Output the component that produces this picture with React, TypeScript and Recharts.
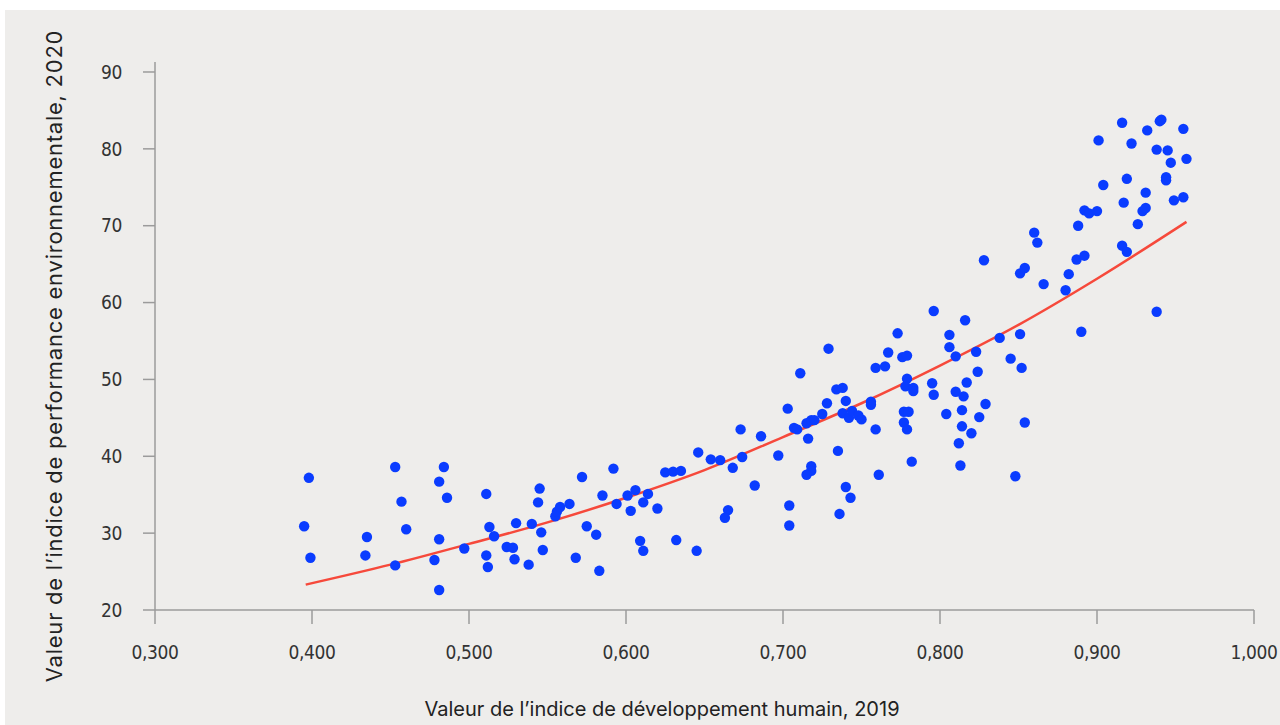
import { ComposedChart, Line, Scatter, XAxis, YAxis } from "recharts";

// Valeur IDH 2019 (x) et indice de performance environnementale 2020 (y), un pays par position
const hdiValues = [
  0.398, 0.395, 0.399, 0.453, 0.484, 0.481, 0.486, 0.457, 0.435, 0.46, 0.481, 0.434, 0.497, 0.453, 0.478, 0.481,
  0.511, 0.513, 0.516, 0.511, 0.512, 0.524, 0.528, 0.53, 0.529, 0.538, 0.54, 0.545, 0.544, 0.546, 0.547, 0.555,
  0.556, 0.558, 0.564, 0.572, 0.575, 0.568, 0.581, 0.583, 0.585, 0.592, 0.594, 0.601, 0.603, 0.606, 0.614, 0.611,
  0.62, 0.609, 0.611, 0.625,
  0.63, 0.635, 0.646, 0.654, 0.66, 0.668, 0.673, 0.674, 0.686, 0.682, 0.665, 0.663, 0.697, 0.703, 0.704, 0.704,
  0.711, 0.707, 0.709, 0.716, 0.715, 0.718, 0.72, 0.725, 0.728, 0.734, 0.729, 0.718, 0.718, 0.715, 0.735, 0.736,
  0.632, 0.645, 0.743,
  0.738, 0.74, 0.738, 0.742, 0.744, 0.748, 0.75, 0.756, 0.756, 0.759, 0.765, 0.767, 0.773, 0.759, 0.74, 0.761,
  0.86, 0.862, 0.828, 0.851, 0.854, 0.796, 0.816, 0.806, 0.806, 0.838, 0.851, 0.776, 0.779, 0.81, 0.823, 0.845,
  0.852, 0.824, 0.779, 0.778, 0.783, 0.783, 0.795, 0.796, 0.817, 0.81, 0.815, 0.829, 0.777, 0.78, 0.804, 0.814,
  0.825, 0.777, 0.779, 0.814, 0.82, 0.812, 0.854, 0.782, 0.813, 0.848,
  0.916, 0.94, 0.941, 0.932, 0.955, 0.901, 0.922, 0.938, 0.945, 0.947, 0.957, 0.904, 0.919, 0.944, 0.944, 0.931,
  0.917, 0.949, 0.955, 0.892, 0.895, 0.9, 0.929, 0.931, 0.926, 0.888, 0.916, 0.919, 0.887, 0.892, 0.882, 0.866,
  0.88, 0.938, 0.89,
];

const epiValues = [
  37.2, 30.9, 26.8, 38.6, 38.6, 36.7, 34.6, 34.1, 29.5, 30.5, 29.2, 27.1, 28.0, 25.8, 26.5, 22.6,
  35.1, 30.8, 29.6, 27.1, 25.6, 28.2, 28.1, 31.3, 26.6, 25.9, 31.2, 35.8, 34.0, 30.1, 27.8, 32.2,
  32.8, 33.4, 33.8, 37.3, 30.9, 26.8, 29.8, 25.1, 34.9, 38.4, 33.8, 34.9, 32.9, 35.6, 35.1, 34.0,
  33.2, 29.0, 27.7, 37.9,
  38.0, 38.1, 40.5, 39.6, 39.5, 38.5, 43.5, 39.9, 42.6, 36.2, 33.0, 32.0, 40.1, 46.2, 33.6, 31.0,
  50.8, 43.7, 43.5, 42.3, 44.3, 44.7, 44.7, 45.5, 46.9, 48.7, 54.0, 38.7, 38.1, 37.6, 40.7, 32.5,
  29.1, 27.7, 34.6,
  48.9, 47.2, 45.6, 45.0, 45.9, 45.3, 44.8, 47.1, 46.7, 51.5, 51.7, 53.5, 56.0, 43.5, 36.0, 37.6,
  69.1, 67.8, 65.5, 63.8, 64.5, 58.9, 57.7, 55.8, 54.2, 55.4, 55.9, 52.9, 53.1, 53.0, 53.6, 52.7,
  51.5, 51.0, 50.1, 49.1, 48.9, 48.5, 49.5, 48.0, 49.6, 48.4, 47.8, 46.8, 45.8, 45.8, 45.5, 46.0,
  45.1, 44.4, 43.5, 43.9, 43.0, 41.7, 44.4, 39.3, 38.8, 37.4,
  83.4, 83.6, 83.8, 82.4, 82.6, 81.1, 80.7, 79.9, 79.8, 78.2, 78.7, 75.3, 76.1, 76.3, 75.9, 74.3,
  73.0, 73.3, 73.7, 72.0, 71.6, 71.9, 71.9, 72.3, 70.2, 70.0, 67.4, 66.6, 65.6, 66.1, 63.7, 62.4,
  61.6, 58.8, 56.2,
];

// courbe de tendance
const trendHdi = [0.396, 0.45, 0.5, 0.55, 0.6, 0.65, 0.7, 0.75, 0.8, 0.85, 0.9, 0.957];
const trendEpi = [23.3, 25.9, 28.6, 31.4, 34.6, 38.2, 42.5, 46.9, 51.8, 57.1, 63.1, 70.5];

const xTicks = [0.3, 0.4, 0.5, 0.6, 0.7, 0.8, 0.9, 1.0];
const yTicks = [20, 30, 40, 50, 60, 70, 80, 90];

const points = hdiValues.map((x, i) => ({ x, y: epiValues[i] }));
const trend = trendHdi.map((x, i) => ({ x, y: trendEpi[i] }));

const tickFont = "'Liberation Sans Narrow', 'Arial Narrow', 'DejaVu Sans Condensed', sans-serif";
const titleFont = "Inter, 'Noto Sans', sans-serif";
const axisGrey = "#9b9b9b";

const Dot = (props: any) => <circle cx={props.cx} cy={props.cy} r={5.2} fill="#0a3cff" />;

export default function App() {
  return (
    <div style={{ position: "absolute", left: 0, top: 0, width: 1280, height: 725, background: "#fff", overflow: "hidden" }}>
      <div style={{ position: "absolute", left: 5, top: 10, width: 1275, height: 715, background: "#eeedeb" }} />
      <div style={{ position: "absolute", left: 0, top: 0 }}>
        <ComposedChart width={1280} height={725} margin={{ top: 62, right: 26, left: 95, bottom: 55 }}>
          <XAxis
            type="number"
            dataKey="x"
            domain={[0.3, 1.0]}
            ticks={xTicks}
            height={60}
            tickSize={14}
            tickMargin={22}
            stroke={axisGrey}
            strokeWidth={1.5}
            tick={{ fill: "#333", fontSize: 19, fontFamily: tickFont, letterSpacing: -0.4 }}
            tickFormatter={(v: number) => v.toFixed(3).replace(".", ",")}
            allowDataOverflow
          />
          <YAxis
            type="number"
            dataKey="y"
            domain={[20, 91.3]}
            ticks={yTicks}
            width={60}
            tickSize={12}
            tickMargin={21}
            stroke={axisGrey}
            strokeWidth={1.5}
            tick={{ fill: "#333", fontSize: 19, fontFamily: tickFont, letterSpacing: -0.4 }}
            allowDataOverflow
          />
          <Scatter data={points} dataKey="y" shape={Dot} isAnimationActive={false} />
          <Line
            data={trend}
            dataKey="y"
            type="monotone"
            stroke="#f6493b"
            strokeWidth={2.5}
            dot={false}
            activeDot={false}
            isAnimationActive={false}
          />
        </ComposedChart>
      </div>
      <div
        style={{
          position: "absolute",
          left: 662,
          top: 709,
          transform: "translate(-50%, -50%)",
          whiteSpace: "nowrap",
          fontFamily: titleFont,
          fontSize: 20,
          lineHeight: 1,
          color: "#222",
        }}
      >
        Valeur de l’indice de développement humain, 2019
      </div>
      <div
        style={{
          position: "absolute",
          left: 54,
          top: 356,
          transform: "translate(-50%, -50%) rotate(-90deg)",
          whiteSpace: "nowrap",
          fontFamily: titleFont,
          fontSize: 22,
          letterSpacing: 0.75,
          lineHeight: 1,
          color: "#222",
        }}
      >
        Valeur de l’indice de performance environnementale, 2020
      </div>
    </div>
  );
}
